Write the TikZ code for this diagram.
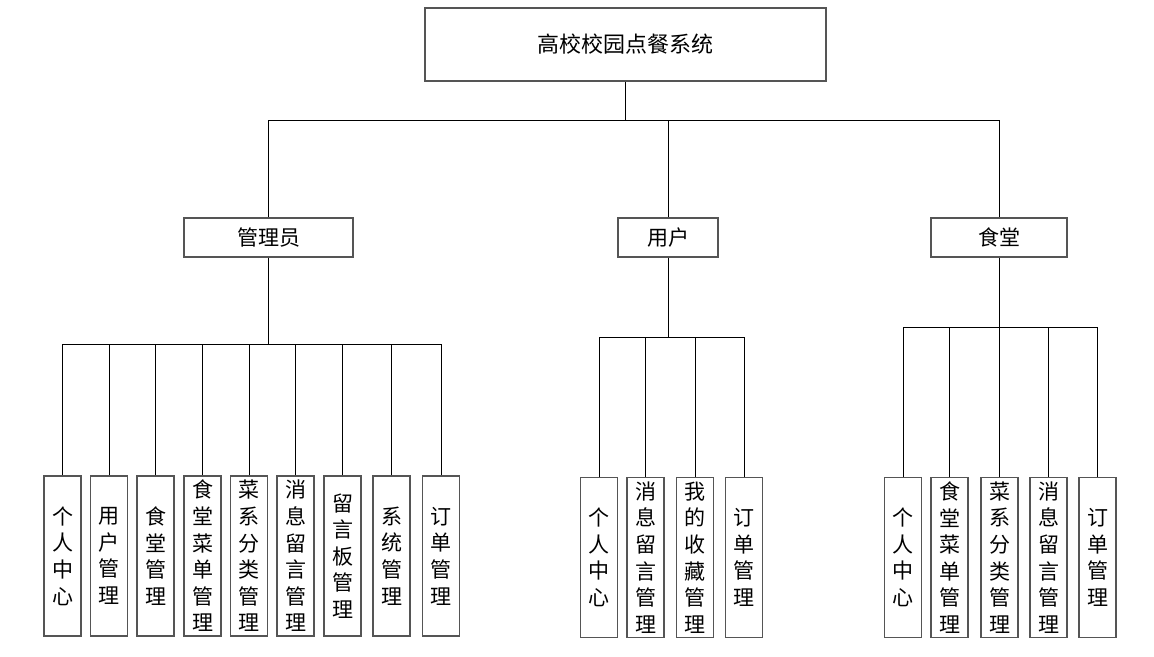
\documentclass[tikz,border=0pt]{standalone}
\usepackage{fontspec}
\newfontfamily\cjk{Noto Sans CJK SC}
\definecolor{boxgray}{RGB}{85,85,85}
\usetikzlibrary{positioning}

\begin{document}
\begin{tikzpicture}[x=0.5pt,y=-0.5pt,
		tbox/.style={draw=boxgray, line width=0.75pt, fill=white, inner sep=0pt,
			font=\cjk\fontsize{10.5pt}{13.3pt}\selectfont},
		leaf/.style={tbox, minimum width=18.5pt, minimum height=80pt, align=center},
		link/.style={draw=black, line width=0.5pt}
	]
		\useasboundingbox (0,0) rectangle (1154,657);
		% top and second level
		\node[tbox, minimum width=200.5pt, minimum height=36.5pt,
			font=\cjk\fontsize{11pt}{13pt}\selectfont] (sys) at (625.5,44.5) {高校校园点餐系统};
		\node[tbox, minimum width=84.5pt, minimum height=19.5pt] (adm) at (268.5,237.5) {管理员};
		\node[tbox, minimum width=50pt, minimum height=19.5pt] (usr) at (668,237.5) {用户};
		\node[tbox, minimum width=68pt, minimum height=19.5pt] (cnt) at (999,237.5) {食堂};
		\coordinate (jsys) at (625.5,121);
		\draw[link] (sys.south) -- (jsys);
		\foreach \n in {adm,usr,cnt}
			\draw[link] (\n.north) |- (jsys);
		% leaves of the admin
		\coordinate (jadm) at (268.5,344);
		\draw[link] (adm.south) -- (jadm);
		\foreach \x/\t [count=\i] in {62.5/{个\\人\\中\\心}, 109/{用\\户\\管\\理},
				155.5/{食\\堂\\管\\理}, 202.5/{食\\堂\\菜\\单\\管\\理},
				249/{菜\\系\\分\\类\\管\\理}, 295.5/{消\\息\\留\\言\\管\\理},
				342.5/{留\\言\\板\\管\\理}, 391.5/{系\\统\\管\\理}, 441/{订\\单\\管\\理}}{
			\node[leaf] (a\i) at (\x,556) {\t};
			\draw[link] (a\i.north) |- (jadm);
		}
		% leaves of the user
		\coordinate (jusr) at (668,337);
		\draw[link] (usr.south) -- (jusr);
		\foreach \x/\t [count=\i] in {599/{个\\人\\中\\心}, 645.5/{消\\息\\留\\言\\管\\理},
				695/{我\\的\\收\\藏\\管\\理}, 744/{订\\单\\管\\理}}{
			\node[leaf] (u\i) at (\x,557.5) {\t};
			\draw[link] (u\i.north) |- (jusr);
		}
		% leaves of the canteen
		\coordinate (jcnt) at (999,327);
		\draw[link] (cnt.south) -- (jcnt);
		\foreach \x/\t [count=\i] in {903/{个\\人\\中\\心}, 949.5/{食\\堂\\菜\\单\\管\\理},
				999.5/{菜\\系\\分\\类\\管\\理}, 1048.5/{消\\息\\留\\言\\管\\理},
				1097.5/{订\\单\\管\\理}}{
			\node[leaf] (c\i) at (\x,557.5) {\t};
			\draw[link] (c\i.north) |- (jcnt);
		}
	\end{tikzpicture}
\end{document}
